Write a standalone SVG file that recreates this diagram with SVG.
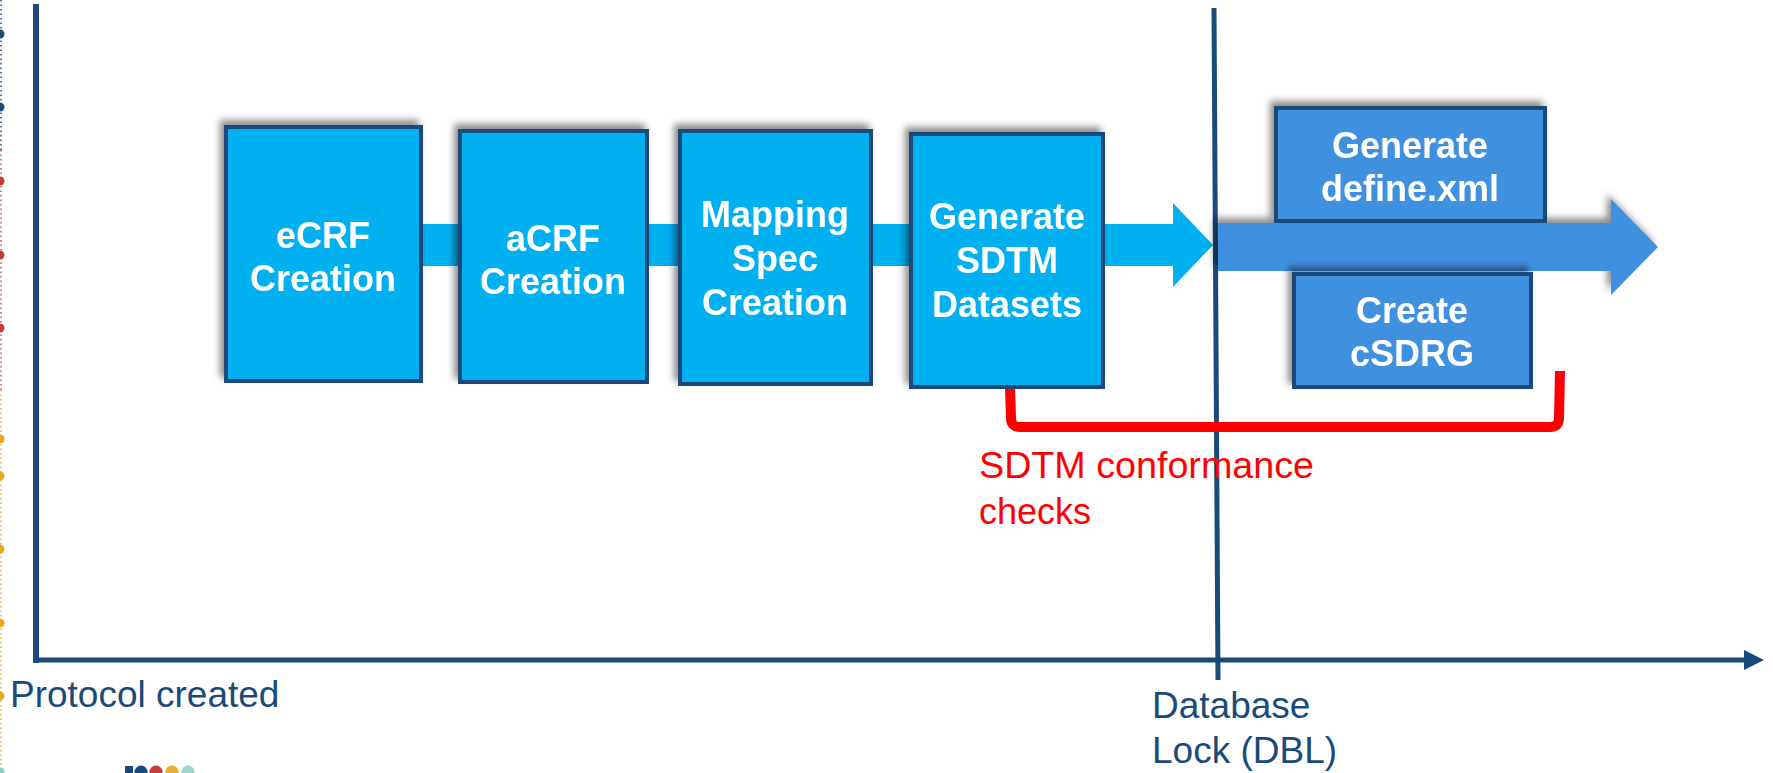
<svg xmlns="http://www.w3.org/2000/svg" width="1773" height="773" viewBox="0 0 1773 773">
  <defs>
    <filter id="shadow" x="-20%" y="-20%" width="140%" height="140%">
      <feDropShadow dx="-4" dy="-5" stdDeviation="3.5" flood-color="#000" flood-opacity="0.45"/>
    </filter>
    <marker id="axisHead" viewBox="0 0 20 20" refX="2" refY="10" markerWidth="20" markerHeight="20" markerUnits="userSpaceOnUse" orient="auto">
      <path d="M0,0 L20,10 L0,20 Z" fill="#1a4a7a"/>
    </marker>
  </defs>
  <style>
    .axis { stroke: #1a4a7a; fill: none; }
    .step { fill: #00b0f0; stroke: #1a4a7a; stroke-width: 4; }
    .post { fill: #3f90e0; stroke: #1a4a7a; stroke-width: 4; }
    .boxText { font-family: "Liberation Sans", Arial, sans-serif; font-weight: bold; font-size: 36px; fill: #fff; text-anchor: middle; }
    .label { font-family: "Liberation Sans", Arial, sans-serif; font-size: 37px; fill: #1a4a7a; }
    .note { font-family: "Liberation Sans", Arial, sans-serif; font-size: 36px; fill: #ff0000; }
  </style>

  <rect width="1773" height="773" fill="#fff"/>

  <!-- slide edge decoration -->
  <g id="edge-decoration">
    <line x1="1" y1="0" x2="1" y2="150" stroke="#1a4a7a" stroke-width="1.5" stroke-dasharray="1.5 3"/>
    <line x1="1" y1="150" x2="1" y2="390" stroke="#d05050" stroke-width="1.5" stroke-dasharray="1.5 3"/>
    <line x1="1" y1="390" x2="1" y2="773" stroke="#e8b030" stroke-width="1.5" stroke-dasharray="1.5 3"/>
    <circle cx="0" cy="34" r="4.5" fill="#1a4a7a"/>
    <circle cx="0" cy="107" r="4.5" fill="#1a4a7a"/>
    <circle cx="0" cy="181" r="4.5" fill="#c43c3c"/>
    <circle cx="0" cy="255" r="4.5" fill="#c43c3c"/>
    <circle cx="0" cy="328" r="4.5" fill="#c43c3c"/>
    <circle cx="0" cy="439" r="4.5" fill="#e8a820"/>
    <circle cx="0" cy="476" r="4.5" fill="#e8a820"/>
    <circle cx="0" cy="549" r="4.5" fill="#e8a820"/>
    <circle cx="0" cy="623" r="4.5" fill="#e8a820"/>
    <circle cx="0" cy="696" r="4.5" fill="#e8a820"/>
    <circle cx="0" cy="772" r="4.5" fill="#8fcfc8"/>
  </g>

  <!-- logo peeking in at the bottom edge -->
  <g id="logo">
    <rect x="125" y="766" width="8" height="10" fill="#1a4a7a"/>
    <circle cx="141" cy="772" r="6.5" fill="#1a4a7a"/>
    <circle cx="156" cy="772" r="6.5" fill="#c43c3c"/>
    <circle cx="172" cy="772" r="6.5" fill="#e8b030"/>
    <circle cx="188" cy="772" r="6.5" fill="#9fd4cc"/>
  </g>

  <!-- timeline axes -->
  <g id="axes">
    <line class="axis" x1="36" y1="4" x2="36" y2="663" stroke-width="6"/>
    <line class="axis" x1="33" y1="660" x2="1746" y2="660" stroke-width="5" marker-end="url(#axisHead)"/>
    <line class="axis" x1="1214" y1="8" x2="1218" y2="680" stroke-width="5"/>
  </g>

  <!-- flow arrows -->
  <g id="connectors">
    <path id="pre-lock-arrow" d="M420,224 L1173,224 L1173,203 L1213,245 L1173,287 L1173,266 L420,266 Z" fill="#00b0f0"/>
    <path id="post-lock-arrow" d="M1218,223 L1611,223 L1611,199 L1658,247 L1611,295 L1611,271 L1218,271 Z" fill="#3f90e0" filter="url(#shadow)"/>
    <path id="conformance-bracket" d="M1010,388 L1011,418 Q1011,427 1020,427 L1550,427 Q1559,427 1559,418 L1560,371" fill="none" stroke="#ff0000" stroke-width="10" stroke-linejoin="round"/>
  </g>

  <!-- pre-lock steps -->
  <g id="ecrf-creation" filter="url(#shadow)">
    <rect class="step" x="226" y="127" width="195" height="254"/>
    <text class="boxText" x="323" y="248">eCRF</text>
    <text class="boxText" x="323" y="291">Creation</text>
  </g>
  <g id="acrf-creation" filter="url(#shadow)">
    <rect class="step" x="460" y="131" width="187" height="251"/>
    <text class="boxText" x="553" y="251">aCRF</text>
    <text class="boxText" x="553" y="294">Creation</text>
  </g>
  <g id="mapping-spec-creation" filter="url(#shadow)">
    <rect class="step" x="680" y="131" width="191" height="253"/>
    <text class="boxText" x="775" y="227">Mapping</text>
    <text class="boxText" x="775" y="271">Spec</text>
    <text class="boxText" x="775" y="315">Creation</text>
  </g>
  <g id="generate-sdtm-datasets" filter="url(#shadow)">
    <rect class="step" x="911" y="134" width="192" height="253"/>
    <text class="boxText" x="1007" y="229">Generate</text>
    <text class="boxText" x="1007" y="273">SDTM</text>
    <text class="boxText" x="1007" y="317">Datasets</text>
  </g>

  <!-- post-lock steps -->
  <g id="generate-define-xml" filter="url(#shadow)">
    <rect class="post" x="1276" y="108" width="269" height="113"/>
    <text class="boxText" x="1410" y="158">Generate</text>
    <text class="boxText" x="1410" y="201">define.xml</text>
  </g>
  <g id="create-csdrg" filter="url(#shadow)">
    <rect class="post" x="1294" y="274" width="237" height="113"/>
    <text class="boxText" x="1412" y="323">Create</text>
    <text class="boxText" x="1412" y="366">cSDRG</text>
  </g>

  <!-- labels -->
  <g id="labels">
    <text class="note" x="979" y="478" textLength="335" lengthAdjust="spacingAndGlyphs">SDTM conformance</text>
    <text class="note" x="979" y="524">checks</text>
    <text class="label" x="10" y="707">Protocol created</text>
    <text class="label" x="1152" y="718">Database</text>
    <text class="label" x="1152" y="763">Lock (DBL)</text>
  </g>
</svg>
